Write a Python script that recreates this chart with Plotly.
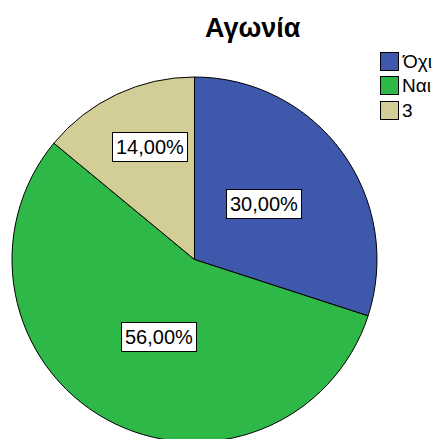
import math
import plotly.graph_objects as go

labels = ["Όχι", "Ναι", "3"]
values = [30.0, 56.0, 14.0]
colors = ["#3E58AC", "#2EB848", "#D3CE97"]
# label box placement: fraction of radius and angular offset (degrees) from slice middle
label_radius = [0.489, 0.468, 0.664]
label_angle_offset = [-2.4, -4.6, 3.9]

FONT = "Liberation Sans, Arial, sans-serif"
W, H = 434, 446
cx, cy, r = 194.5, 259.5, 182.5  # pie placement in pixels

dom_x = [(cx - r) / W, (cx + r) / W]
dom_y = [1 - (cy + r) / H, 1 - (cy - r) / H]

fig = go.Figure(go.Pie(
    labels=labels, values=values, sort=False, direction="clockwise", rotation=0,
    marker=dict(colors=colors, line=dict(color="black", width=1)),
    textinfo="none", hoverinfo="label+percent", showlegend=False,
    domain=dict(x=dom_x, y=dom_y),
))

total = sum(values)
start = 0.0
annotations = []
for lab, v, fr, off in zip(labels, values, label_radius, label_angle_offset):
    mid = (start + v / 2) / total * 2 * math.pi + math.radians(off)
    start += v
    px = cx + fr * r * math.sin(mid)
    py = cy - fr * r * math.cos(mid)
    annotations.append(dict(
        x=px / W, y=1 - py / H, xref="paper", yref="paper", xanchor="center", yanchor="middle",
        text=f"{v / total * 100:.2f}%".replace(".", ","), showarrow=False,
        font=dict(family=FONT, size=20, color="black"),
        bgcolor="white", bordercolor="black", borderwidth=1, borderpad=3,
    ))

# title
annotations.append(dict(
    x=252.5 / W, y=1 - 28 / H, xref="paper", yref="paper", xanchor="center", yanchor="middle",
    text="<b>Αγωνία</b>", showarrow=False, font=dict(family=FONT, size=27, color="black"),
))

# legend (swatch + label)
leg_x, leg_y0, leg_dy, sw = 389.5, 61.4, 24.3, 17
for i, (lab, col) in enumerate(zip(labels, colors)):
    yy = leg_y0 + i * leg_dy
    annotations.append(dict(
        x=leg_x / W, y=1 - yy / H, xref="paper", yref="paper", xanchor="center", yanchor="middle",
        text=" ", showarrow=False, width=sw, height=sw, bgcolor=col,
        bordercolor="black", borderwidth=1, borderpad=0, font=dict(size=10),
    ))
    annotations.append(dict(
        x=(leg_x + sw / 2 + 2) / W, y=1 - yy / H, xref="paper", yref="paper",
        xanchor="left", yanchor="middle", text=lab, showarrow=False,
        font=dict(family=FONT, size=19, color="black"),
    ))

fig.update_layout(
    width=W, height=H, margin=dict(l=0, r=0, t=0, b=0),
    paper_bgcolor="white", plot_bgcolor="white",
    annotations=annotations, showlegend=False,
)

fig.write_html(
    "out.html", config={"displayModeBar": False},
    post_script="document.documentElement.style.overflow='hidden';document.body.style.overflow='hidden';document.body.style.margin='0';",
)
